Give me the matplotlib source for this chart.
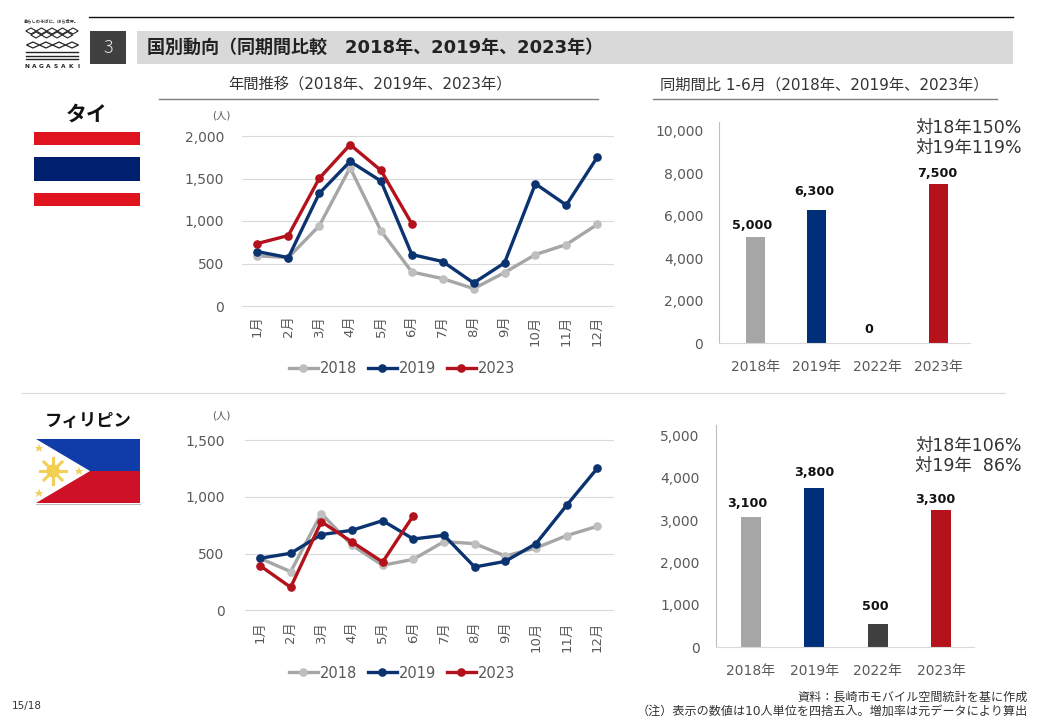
import matplotlib
matplotlib.use('Agg')
import matplotlib.pyplot as plt
from matplotlib.patches import Rectangle, Polygon, Circle

plt.rcParams['font.family'] = ['DejaVu Sans', 'Noto Sans CJK JP']

W, H = 1040, 720

months = ['1月', '2月', '3月', '4月', '5月', '6月', '7月', '8月', '9月', '10月', '11月', '12月']
line_years = ['2018', '2019', '2023']
bar_years = ['2018年', '2019年', '2022年', '2023年']

# タイ
th_2018 = [590, 570, 943, 1627, 884, 400, 322, 204, 393, 605, 723, 959]
th_2019 = [640, 570, 1324, 1701, 1470, 605, 523, 271, 507, 1438, 1187, 1749]
th_2023 = [735, 829, 1501, 1898, 1595, 967]
th_bars = [5000, 6270, 0, 7490]
th_bar_labels = ['5,000', '6,300', '0', '7,500']

# フィリピン
ph_2018 = [459, 341, 853, 574, 397, 450, 606, 588, 479, 550, 659, 741]
ph_2019 = [459, 503, 668, 706, 791, 629, 662, 382, 432, 588, 926, 1253]
ph_2023 = [394, 203, 782, 603, 426, 835]
ph_bars = [3085, 3762, 551, 3243]
ph_bar_labels = ['3,100', '3,800', '500', '3,300']

TEXT = '#595959'
GRID = '#D9D9D9'
LINE_COLORS = ['#A6A6A6', '#0A3370', '#B3111B']
MARKER_COLORS = ['#BFBFBF', '#0A3370', '#B3111B']
BAR_COLORS = ['#A6A6A6', '#002F7A', '#404040', '#B5121B']


def px_axes(fig, left, top, right, bottom):
    """ Axes placed by pixel box, y counted from the top of the image. """
    return fig.add_axes([left / W, 1 - bottom / H, (right - left) / W, (bottom - top) / H])


def line_chart(fig, box, series, ymax, step, tick_pad, month_pad, legend_y):
    ax = px_axes(fig, *box)
    ax.set_facecolor('none')
    for values, name, color, mcolor in zip(series, line_years, LINE_COLORS, MARKER_COLORS):
        ax.plot(range(len(values)), values, color=color, lw=2.4, marker='o', ms=5.2,
                mfc=mcolor, mec=mcolor, label=name, solid_joinstyle='miter', clip_on=False)
    ax.set_xlim(-0.5, 11.5)
    ax.set_ylim(0, ymax)
    ax.set_yticks(range(0, ymax + 1, step))
    ax.set_yticklabels([f'{v:,}' for v in range(0, ymax + 1, step)], fontsize=10, color=TEXT)
    ax.set_xticks(range(12))
    ax.set_xticklabels(months, rotation=90, fontsize=9.5, color=TEXT)
    ax.tick_params(axis='y', length=0, pad=tick_pad)
    ax.tick_params(axis='x', length=0, pad=month_pad)
    ax.grid(axis='y', color=GRID, lw=0.8, clip_on=False)
    ax.set_axisbelow(True)
    for s in ax.spines.values():
        s.set_visible(False)
    ax.legend(loc='center', bbox_to_anchor=(402 / W, 1 - legend_y / H), bbox_transform=fig.transFigure,
              ncol=3, frameon=False, fontsize=10.5, labelcolor=TEXT, handlelength=2.0,
              handletextpad=0.15, columnspacing=0.7, borderpad=0, borderaxespad=0)
    return ax


def bar_chart(fig, box, values, labels, ymax_tick, step, ylim_top, xlim, nudges):
    ax = px_axes(fig, *box)
    ax.set_facecolor('none')
    ax.bar(range(4), values, width=0.32, color=BAR_COLORS)
    ax.set_xlim(*xlim)
    ax.set_ylim(0, ylim_top)
    ax.set_yticks(range(0, ymax_tick + 1, step))
    ax.set_yticklabels([f'{v:,}' for v in range(0, ymax_tick + 1, step)], fontsize=10, color=TEXT)
    ax.set_xticks(range(4))
    ax.set_xticklabels(bar_years, fontsize=10, color=TEXT)
    ax.tick_params(axis='y', length=0, pad=11.5)
    ax.tick_params(axis='x', length=0, pad=12)
    for s in ['top', 'right']:
        ax.spines[s].set_visible(False)
    ax.spines['left'].set_color('#BFBFBF')
    ax.spines['bottom'].set_color(GRID)
    for i, (v, lab, (dx, dy)) in enumerate(zip(values, labels, nudges)):
        ax.annotate(lab, (i, v), xytext=(dx * 0.72, dy * 0.72), textcoords='offset points',
                    ha='center', va='center', fontsize=9.2, fontweight='bold', color='#111111')
    return ax


fig = plt.figure(figsize=(W / 100, H / 100), dpi=100, facecolor='white')

# page furniture, in pixel coordinates
bg = fig.add_axes([0, 0, 1, 1])
bg.set_xlim(0, W)
bg.set_ylim(H, 0)
bg.axis('off')

bg.plot([89, 1013], [17, 17], color='#111111', lw=1)
bg.add_patch(Rectangle((90, 31), 36, 33, color='#404040', lw=0))
bg.text(108, 48, '3', color='#E5E5E5', fontsize=13, ha='center', va='center',
        family='Noto Sans CJK JP', fontweight='light')
bg.add_patch(Rectangle((137, 31), 876, 33, color='#D9D9D9', lw=0))
bg.text(147, 47.5, '国別動向（同期間比較　2018年、2019年、2023年）', fontsize=13, fontweight='bold',
        color='#222222', va='center')

bg.text(370, 84, '年間推移（2018年、2019年、2023年）', fontsize=11, color='#333333', ha='center', va='center')
bg.plot([159, 598], [99, 99], color='#7F7F7F', lw=1)
bg.text(824, 85, '同期間比 1-6月（2018年、2019年、2023年）', fontsize=11, color='#333333', ha='center', va='center')
bg.plot([653, 997], [99, 99], color='#7F7F7F', lw=1)
bg.plot([22, 1005], [393, 393], color=GRID, lw=0.8)

# logo
bg.text(52, 21, '暮らしのそばに、ほら世界。', fontsize=3.1, color='#333333', ha='center', va='center',
        family='Noto Sans CJK JP', fontweight='bold')
for row, y in enumerate([31, 35]):
    for k in range(5 - row):
        cx = 31 + row * 5 + k * 10.5
        bg.add_patch(Polygon([(cx - 5.2, y), (cx, y - 3), (cx + 5.2, y), (cx, y + 3)], fill=False,
                             ec='#222222', lw=0.8))
for k in range(4):
    cx = 33 + k * 13
    bg.add_patch(Polygon([(cx - 6.5, 45), (cx, 42), (cx + 6.5, 45), (cx, 48)], fill=False,
                         ec='#222222', lw=0.9))
for y in [52, 55.5, 59]:
    bg.plot([26, 78], [y, y], color='#222222', lw=1)
for k, ch in enumerate('NAGASAKI'):
    bg.text(26.5 + k * 7.4, 67, ch, fontsize=4.2, fontweight='bold', color='#222222', ha='center', va='center')

# タイ flag
bg.text(87, 115, 'タイ', fontsize=15, fontweight='bold', color='#111111', ha='center', va='center')
bg.add_patch(Rectangle((34, 132), 106, 12.5, color='#E0141E', lw=0))
bg.add_patch(Rectangle((34, 157), 106, 24, color='#00206F', lw=0))
bg.add_patch(Rectangle((34, 193), 106, 13, color='#E0141E', lw=0))

# フィリピン flag
bg.text(88, 421, 'フィリピン', fontsize=12.5, fontweight='bold', color='#111111', ha='center', va='center')
bg.add_patch(Rectangle((36, 439), 104, 32, color='#0F3CA8', lw=0))
bg.add_patch(Rectangle((36, 471), 104, 32, color='#CE1126', lw=0))
bg.add_patch(Polygon([(36, 439), (90, 471), (36, 503)], color='white', lw=0))
bg.add_patch(Circle((53, 471), 6.5, color='#F6C92B', lw=0))
for dx, dy in [(13, 0), (-13, 0), (0, 13), (0, -13), (9, 9), (-9, 9), (9, -9), (-9, -9)]:
    bg.plot([53, 53 + dx], [471, 471 + dy], color='#F3CF55', lw=2.2)
bg.plot([39, 79, 39], [448, 471, 493], ls='none', marker='*', ms=6.5, color='#F0D060', mew=0)
bg.plot([36, 140], [503.5, 503.5], color='#BFBFBF', lw=0.8)

bg.text(221, 115, '(人)', fontsize=7.5, color=TEXT, ha='center', va='center')
bg.text(221, 415, '(人)', fontsize=7.5, color=TEXT, ha='center', va='center')

bg.text(915, 128, '対18年150%', fontsize=12.5, color='#333333', va='center')
bg.text(915, 148, '対19年119%', fontsize=12.5, color='#333333', va='center')
bg.text(915, 446, '対18年106%', fontsize=12.5, color='#333333', va='center')
bg.text(915, 466, '対19年  86%', fontsize=12.5, color='#333333', va='center')

bg.text(12, 706, '15/18', fontsize=7.5, color='#333333', va='center')
bg.text(1028, 697, '資料：長崎市モバイル空間統計を基に作成', fontsize=8.7, color='#333333', ha='right', va='center')
bg.text(1028, 711, '（注）表示の数値は10人単位を四捨五入。増加率は元データにより算出', fontsize=8.7, color='#333333', ha='right', va='center')

line_chart(fig, (242, 136, 612.6, 306), [th_2018, th_2019, th_2023], 2000, 500, 13, 7, 369)
line_chart(fig, (244.7, 440.3, 612.6, 610.3), [ph_2018, ph_2019, ph_2023], 1500, 500, 14.5, 8, 673)

bar_chart(fig, (719.3, 121.7, 970, 343.3), th_bars, th_bar_labels, 10000, 2000, 10423, (-0.59, 3.52),
          [(-3, 11), (-2, 18), (-8, 14), (-1, 11)])
bar_chart(fig, (715.7, 425, 974, 647.3), ph_bars, ph_bar_labels, 5000, 1000, 5250, (-0.555, 3.52),
          [(-4, 13), (0, 16), (-2, 17), (-6, 10)])

fig.savefig('out.png', dpi=100, facecolor='white')
